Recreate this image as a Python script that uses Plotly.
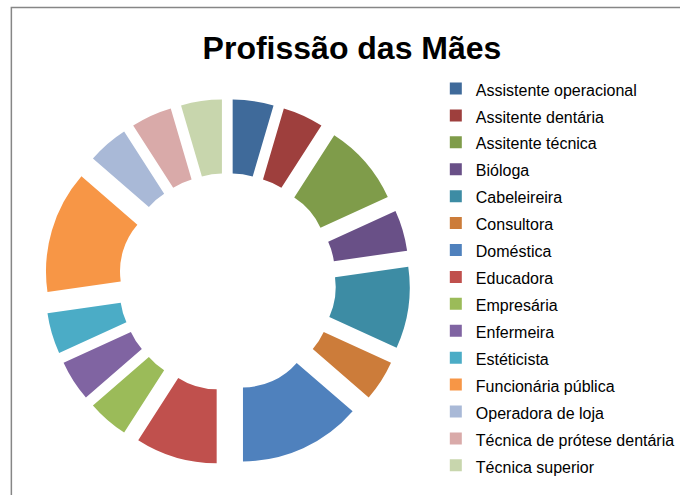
import plotly.graph_objects as go

professions = [
    "Assistente operacional",
    "Assitente dentária",
    "Assitente técnica",
    "Bióloga",
    "Cabeleireira",
    "Consultora",
    "Doméstica",
    "Educadora",
    "Empresária",
    "Enfermeira",
    "Estéticista",
    "Funcionária pública",
    "Operadora de loja",
    "Técnica de prótese dentária",
    "Técnica superior",
]
counts = [1, 1, 2, 1, 2, 1, 3, 2, 1, 1, 1, 3, 1, 1, 1]

slice_colors = [
    "#3F6A9A", "#9E3F3D", "#7F9C4A", "#695087", "#3D8CA4", "#CC7C3A",
    "#4F81BD", "#C0504D", "#9BBB59", "#8064A2", "#4BACC6", "#F79646",
    "#A9B9D7", "#D9AAA9", "#C8D6AD",
]

W, H = 680, 495

fig = go.Figure()

fig.add_trace(
    go.Pie(
        labels=[f"<span style='font-size:16px'>{p}</span>" for p in professions],
        values=counts,
        sort=False,
        direction="clockwise",
        rotation=0,
        hole=0.49,
        pull=0.26,
        textinfo="none",
        marker=dict(colors=slice_colors, line=dict(width=0)),
        domain=dict(x=[45 / W, 415 / W], y=[1 - 467 / H, 1 - 97 / H]),
        hoverinfo="label+value+percent",
    )
)

# chart border (only left/top visible in the crop)
fig.add_shape(
    type="rect",
    xref="paper", yref="paper",
    x0=11.5 / W, x1=1.02, y0=-0.02, y1=1 - 7.5 / H,
    line=dict(color="#868686", width=1.5),
)

fig.update_layout(
    width=W,
    height=H,
    margin=dict(l=0, r=0, t=0, b=0),
    paper_bgcolor="white",
    font=dict(family="Liberation Sans, Arial, sans-serif", color="black"),
    title=dict(
        text="<b>Profissão das Mães</b>",
        x=352 / W,
        xanchor="center",
        y=1 - 48 / H,
        yanchor="middle",
        font=dict(size=32, color="black"),
    ),
    legend=dict(
        x=441 / W,
        xanchor="left",
        y=1 - 70 / H,
        yanchor="top",
        font=dict(size=18.4, color="black"),
        bgcolor="rgba(0,0,0,0)",
        traceorder="normal",
    ),
    showlegend=True,
)

# drop the default page margin so the figure sits at the window's corner
fig.write_html(
    "out.html",
    config={"displayModeBar": False},
    post_script="document.body.style.margin='0px';",
)
